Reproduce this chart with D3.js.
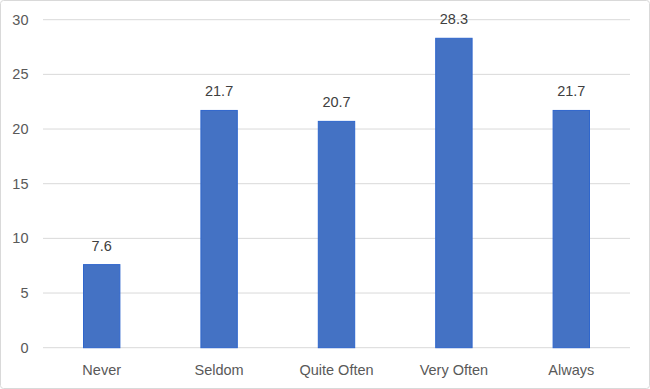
<!DOCTYPE html>
<html>
<head>
<meta charset="utf-8">
<script src="https://cdn.jsdelivr.net/npm/d3@7"></script>
<style>
  body { margin: 0; background: #fff; }
  text { font-family: "Liberation Sans", "Open Sans", sans-serif; }
</style>
</head>
<body>
<svg id="chart" width="650" height="389"></svg>
<script>
const categories = ["Never", "Seldom", "Quite Often", "Very Often", "Always"];
const values = [7.6, 21.7, 20.7, 28.3, 21.7];
const yTicks = [0, 5, 10, 15, 20, 25, 30];

let width = 650, height = 389;
let plotLeft = 43, plotRight = 630, plotTop = 19.7, plotBottom = 347.7;

let svg = d3.select('#chart');

svg.append('rect')
    .attr('x', 0.5).attr('y', 0.5)
    .attr('width', width - 1).attr('height', height - 1)
    .attr('rx', 3)
    .attr('fill', '#fff')
    .attr('stroke', '#d9d9d9');

let x = d3.scaleBand()
    .domain(categories)
    .range([plotLeft, plotRight])
    .paddingInner(0.69)
    .paddingOuter(0.345);

let y = d3.scaleLinear()
    .domain([0, 30])
    .range([plotBottom, plotTop]);

// gridlines
svg.append('g')
    .selectAll('line')
    .data(yTicks)
    .enter()
    .append('line')
    .attr('x1', plotLeft).attr('x2', plotRight)
    .attr('y1', d => y(d)).attr('y2', d => y(d))
    .attr('stroke', '#d9d9d9')
    .attr('stroke-width', 1);

// y tick labels
svg.append('g')
    .selectAll('text')
    .data(yTicks)
    .enter()
    .append('text')
    .attr('x', 28.5)
    .attr('y', d => y(d) + 5)
    .attr('text-anchor', 'end')
    .attr('font-size', 14.5)
    .attr('fill', '#595959')
    .text(d => d);

// bars
svg.append('g')
    .selectAll('rect')
    .data(values)
    .enter()
    .append('rect')
    .attr('x', (d, i) => x(categories[i]))
    .attr('y', d => y(d))
    .attr('width', x.bandwidth())
    .attr('height', d => plotBottom - y(d))
    .attr('fill', '#4472c4')
    .attr('stroke', '#2f66cc')
    .attr('stroke-width', 1);

// value labels
svg.append('g')
    .selectAll('text')
    .data(values)
    .enter()
    .append('text')
    .attr('x', (d, i) => x(categories[i]) + x.bandwidth() / 2)
    .attr('y', d => y(d) - 14)
    .attr('text-anchor', 'middle')
    .attr('font-size', 14.5)
    .attr('fill', '#404040')
    .text(d => d.toFixed(1));

// category labels
svg.append('g')
    .selectAll('text')
    .data(categories)
    .enter()
    .append('text')
    .attr('x', d => x(d) + x.bandwidth() / 2)
    .attr('y', plotBottom + 27)
    .attr('text-anchor', 'middle')
    .attr('font-size', 14.5)
    .attr('fill', '#595959')
    .text(d => d);
</script>
</body>
</html>
